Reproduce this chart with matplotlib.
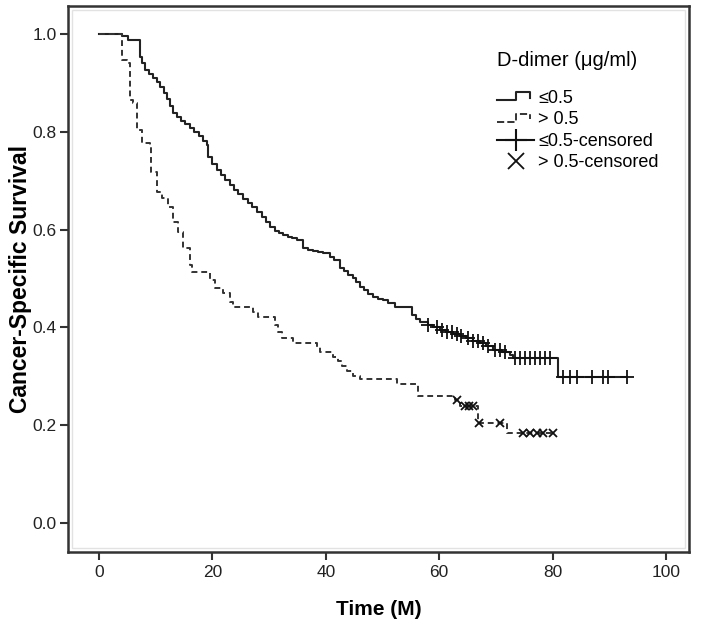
import numpy as np
import matplotlib
matplotlib.use("Agg")
import matplotlib.pyplot as plt
from matplotlib.lines import Line2D
from matplotlib.legend_handler import HandlerBase
from matplotlib.patches import Rectangle

plt.rcParams['font.family'] = ['Liberation Sans', 'DejaVu Sans']

# D-dimer <= 0.5 : event times (months) and survival after each step
low_time = [0, 4.1, 5.1, 7.2, 7.6, 8.1, 8.8, 9.5, 10.2, 10.8,
            11.4, 12.0, 12.6, 13.1, 13.8, 14.5, 15.2, 16.0, 16.8, 17.6,
            18.3, 19.0, 19.2, 19.9, 20.8, 21.5, 22.3, 23.1, 23.8, 24.6,
            25.4, 26.2, 27.0, 27.9, 28.7, 29.5, 30.2, 31.0, 31.8, 32.5,
            33.3, 34.0, 34.9, 36.0, 36.9, 37.8, 38.7, 39.5, 40.7, 41.5,
            42.5, 43.3, 44.0, 44.8, 45.4, 46.0, 46.8, 47.5, 48.3, 49.2,
            50.1, 51.0, 52.2, 55.2, 56.0, 56.6, 58.0, 59.0, 60.2, 61.3,
            62.5, 63.7, 64.8, 66.0, 67.2, 68.3, 69.5, 71.0, 72.5, 73.0,
            81.0]
low_surv = [1.0, 0.996, 0.988, 0.953, 0.940, 0.926, 0.918, 0.910, 0.901, 0.892,
            0.880, 0.867, 0.852, 0.838, 0.830, 0.822, 0.815, 0.808, 0.800, 0.791,
            0.782, 0.773, 0.748, 0.735, 0.722, 0.712, 0.702, 0.691, 0.681, 0.672,
            0.663, 0.654, 0.646, 0.636, 0.626, 0.616, 0.605, 0.598, 0.593, 0.589,
            0.585, 0.582, 0.579, 0.562, 0.558, 0.556, 0.554, 0.552, 0.544, 0.538,
            0.521, 0.515, 0.508, 0.501, 0.492, 0.483, 0.476, 0.469, 0.462, 0.459,
            0.456, 0.449, 0.442, 0.425, 0.418, 0.411, 0.405, 0.400, 0.395, 0.390,
            0.386, 0.382, 0.378, 0.373, 0.368, 0.362, 0.354, 0.349, 0.344, 0.337,
            0.299]
low_end = 93.1
low_cens = [58.1, 59.6, 60.5, 61.4, 62.3, 63.1, 63.9, 65.1, 66.0, 66.8,
            67.7, 68.6, 69.8, 70.7, 71.6, 73.4, 74.3, 75.1, 76.0, 76.9,
            77.8, 78.7, 79.5, 81.8, 83.1, 84.3, 86.9, 88.9, 89.8, 93.1]

# D-dimer > 0.5
high_time = [0, 4.1, 4.9, 5.5, 6.0, 6.7, 7.6, 9.0, 9.2, 10.2,
             11.1, 12.2, 13.05, 13.9, 14.8, 16.0, 16.4, 19.6, 20.5, 21.9,
             23.1, 23.6, 27.2, 28.0, 31.0, 31.6, 32.3, 34.2, 38.4, 39.0,
             41.3, 42.2, 42.9, 43.7, 44.8, 46.0, 52.6, 56.3, 62.8, 63.7,
             66.8, 72.0]
high_surv = [1.0, 0.947, 0.941, 0.865, 0.859, 0.804, 0.777, 0.769, 0.718, 0.677,
             0.665, 0.646, 0.616, 0.595, 0.562, 0.528, 0.513, 0.497, 0.481, 0.470,
             0.452, 0.442, 0.431, 0.421, 0.405, 0.391, 0.378, 0.368, 0.360, 0.350,
             0.339, 0.331, 0.321, 0.311, 0.301, 0.294, 0.284, 0.260, 0.252, 0.239,
             0.204, 0.184]
high_end = 80.0
high_cens = [63.2, 64.5, 65.2, 66.0, 67.0, 70.7, 74.8, 76.0, 77.2, 78.3, 80.0]

legend_labels = ['\u22640.5', '> 0.5', '\u22640.5-censored', '> 0.5-censored']


def surv_at(times, surv, t):
    idx = np.searchsorted(times, t, side='right') - 1
    return np.array(surv)[idx]


class StepHandler(HandlerBase):
    def create_artists(self, legend, orig, xd, yd, w, h, fontsize, trans):
        xs = [-xd, -xd + 0.5 * w, -xd + 0.5 * w, -xd + 0.9 * w, -xd + 0.9 * w]
        ys = [-yd + 0.2 * h, -yd + 0.2 * h, -yd + 0.85 * h, -yd + 0.85 * h, -yd + 0.4 * h]
        ln = Line2D(xs, ys, color=orig.get_color(), linestyle=orig.get_linestyle(),
                    linewidth=orig.get_linewidth())
        ln.set_transform(trans)
        return [ln]


fig = plt.figure(figsize=(7.03, 6.3), dpi=100)
ax = fig.add_axes([0.0967, 0.1238, 0.8833, 0.8667])

line_low, = ax.step(low_time + [low_end], low_surv + [low_surv[-1]], where='post',
                    color='#222222', linewidth=1.5)
line_high, = ax.step(high_time + [high_end], high_surv + [high_surv[-1]], where='post',
                     color='#333333', linewidth=1.4, linestyle=(0, (3, 2)))

ax.plot(low_cens, surv_at(low_time, low_surv, low_cens), linestyle='none',
        marker='+', markersize=10, markeredgewidth=1.3, color='#111111')
ax.plot(high_cens, surv_at(high_time, high_surv, high_cens), linestyle='none',
        marker='x', markersize=6, markeredgewidth=1.3, color='#111111')

ax.set_xlim(-5.47, 104.06)
ax.set_ylim(-0.059, 1.057)
ax.set_xticks([0, 20, 40, 60, 80, 100])
ax.set_yticks([0.0, 0.2, 0.4, 0.6, 0.8, 1.0])
ax.set_yticklabels(['0.0', '0.2', '0.4', '0.6', '0.8', '1.0'])
ax.tick_params(axis='both', labelsize=12.5, length=6, width=1.5, color='#333333',
               labelcolor='#222222')
ax.tick_params(axis='y', pad=2)

for sp in ax.spines.values():
    sp.set_color('#333333')
    sp.set_linewidth(1.8)

# light inner frame like SPSS
ax.add_patch(Rectangle((0.006, 0.008), 0.988, 0.984, transform=ax.transAxes,
                       fill=False, edgecolor='#e2e2e2', linewidth=1))

ax.set_xlabel('Time (M)', fontsize=15, fontweight='bold', labelpad=14)
ax.set_ylabel('Cancer-Specific Survival', fontsize=16.5, fontweight='bold')
ax.yaxis.set_label_coords(-0.058, 0.5)

h_cens_low = Line2D([], [], color='#111111', linestyle='-', linewidth=1.5,
                    marker='+', markersize=16, markeredgewidth=1.5)
h_cens_high = Line2D([], [], color='#111111', linestyle='none',
                     marker='x', markersize=11, markeredgewidth=1.3)
leg = ax.legend([line_low, line_high, h_cens_low, h_cens_high], legend_labels,
                handler_map={line_low: StepHandler(), line_high: StepHandler()},
                loc='upper left', bbox_to_anchor=(0.68, 0.93), frameon=False,
                fontsize=13, title='D-dimer (\u03bcg/ml)', title_fontsize=14.5,
                alignment='left', handlelength=2.0, handletextpad=0.25,
                labelspacing=0.25, borderaxespad=0)
leg._legend_box.sep = 14

fig.savefig('out.png', dpi=100)
